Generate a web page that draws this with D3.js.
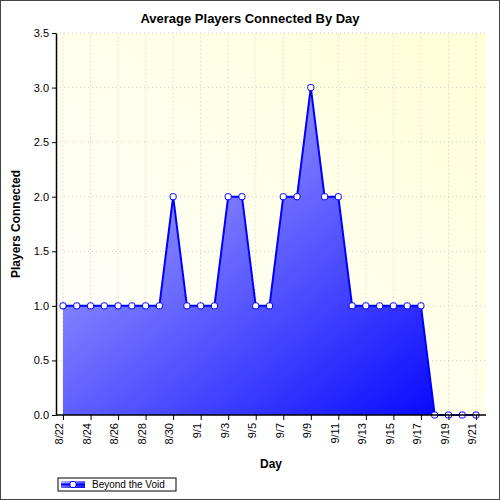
<!DOCTYPE html>
<html><head><meta charset="utf-8">
<script src="https://cdn.jsdelivr.net/npm/d3@7"></script>
<style>body{margin:0}svg{font-family:"Liberation Sans",Arial,sans-serif}</style>
</head><body><div class="chart"></div>
<script>
var days = ["8/22","8/23","8/24","8/25","8/26","8/27","8/28","8/29","8/30","8/31","9/1","9/2","9/3","9/4","9/5","9/6","9/7","9/8","9/9","9/10","9/11","9/12","9/13","9/14","9/15","9/16","9/17","9/18","9/19","9/20","9/21"];
var players = [1,1,1,1,1,1,1,1,2,1,1,1,2,2,1,1,2,2,3,2,2,1,1,1,1,1,1,0,0,0,0];
var yTicks = [0,0.5,1,1.5,2,2.5,3,3.5];

var margin = {top: 33, right: 14, bottom: 85, left: 56};
var width = 500 - margin.left - margin.right;
var height = 500 - margin.top - margin.bottom;

var svg = d3.select(".chart").append("svg").attr("width", 500).attr("height", 500);
var defs = svg.append("defs");
var bg = defs.append("linearGradient").attr("id", "bg").attr("x1", 0).attr("y1", 1).attr("x2", 1).attr("y2", 0);
bg.append("stop").attr("offset", 0).attr("stop-color", "#ffffff");
bg.append("stop").attr("offset", 1).attr("stop-color", "#ffffd8");
var fg = defs.append("linearGradient").attr("id", "fg").attr("x1", 0).attr("y1", 0).attr("x2", 1).attr("y2", 1);
fg.append("stop").attr("offset", 0).attr("stop-color", "#c0c0ff");
fg.append("stop").attr("offset", 1).attr("stop-color", "#0000ff");

svg.append("rect").attr("x", 0.5).attr("y", 0.5).attr("width", 499).attr("height", 499)
  .attr("fill", "white").attr("stroke", "#444");

svg.append("text").attr("x", 250).attr("y", 23).attr("text-anchor", "middle")
  .attr("font-size", 13).attr("font-weight", "bold").text("Average Players Connected By Day");

var g = svg.append("g").attr("transform", `translate(${margin.left}, ${margin.top})`);
g.append("rect").attr("width", width).attr("height", height).attr("fill", "url(#bg)");

var x = d3.scalePoint().domain(days).range([7, width - 10]);
var y = d3.scaleLinear().domain([0, 3.5]).range([height, 0]);

// grid
g.selectAll(".hg").data(yTicks.slice(1)).enter().append("line")
  .attr("x1", 0).attr("x2", width).attr("y1", d => y(d)).attr("y2", d => y(d))
  .attr("stroke", "#ccc").attr("stroke-dasharray", "1,3");
g.selectAll(".vg").data(days.filter((d, i) => i % 2 == 0)).enter().append("line")
  .attr("y1", 0).attr("y2", height).attr("x1", d => x(d)).attr("x2", d => x(d))
  .attr("stroke", "#ccc").attr("stroke-dasharray", "1,3");

var area = d3.area().x((d, i) => x(days[i])).y0(height).y1(d => y(d));
var line = d3.line().x((d, i) => x(days[i])).y(d => y(d));
g.append("path").datum(players).attr("d", area).attr("fill", "url(#fg)");
g.append("path").datum(players).attr("d", line).attr("fill", "none").attr("stroke", "#0000ff").attr("stroke-width", 2);
g.selectAll(".pt").data(players).enter().append("rect")
  .attr("x", (d, i) => x(days[i]) - 3).attr("y", d => y(d) - 3).attr("width", 6).attr("height", 6)
  .attr("rx", 2).attr("fill", "white").attr("stroke", "#0000ff");

var yAxis = g.append("g").call(d3.axisLeft(y).tickValues(yTicks).tickFormat(d3.format(".1f")).tickSize(4).tickSizeOuter(0));
yAxis.selectAll("text").attr("font-size", 11).attr("fill", "#000");
yAxis.select(".domain").attr("stroke", "#000").attr("stroke-width", 1.5);
var xAxis = g.append("g").attr("transform", `translate(0, ${height})`)
  .call(d3.axisBottom(x).tickValues(days.filter((d, i) => i % 2 == 0)).tickSize(5).tickSizeOuter(0));
xAxis.select(".domain").attr("stroke", "#000").attr("stroke-width", 1.5).attr("d", `M0,0H${width}`);
xAxis.selectAll("text").attr("font-size", 11).attr("fill", "#000")
  .attr("transform", "rotate(-90)").attr("text-anchor", "end").attr("x", -8).attr("y", -4).attr("dy", "0.35em");

svg.append("text").attr("x", margin.left + width / 2).attr("y", 468).attr("text-anchor", "middle")
  .attr("font-size", 12).attr("font-weight", "bold").text("Day");
svg.append("text").attr("transform", "rotate(-90)").attr("x", -(margin.top + height / 2)).attr("y", 20)
  .attr("text-anchor", "middle").attr("font-size", 12).attr("font-weight", "bold").text("Players Connected");

// legend
var lg = svg.append("g").attr("transform", "translate(58, 478)");
lg.append("rect").attr("width", 118).attr("height", 13).attr("fill", "white").attr("stroke", "#000");
lg.append("rect").attr("x", 3).attr("y", 3).attr("width", 24).attr("height", 7).attr("fill", "url(#fg)");
lg.append("line").attr("x1", 3).attr("x2", 27).attr("y1", 6.5).attr("y2", 6.5).attr("stroke", "#00f").attr("stroke-width", 2);
lg.append("rect").attr("x", 12).attr("y", 3.5).attr("width", 6).attr("height", 6).attr("rx", 2).attr("fill", "white").attr("stroke", "#00f");
lg.append("text").attr("x", 34).attr("y", 10).attr("font-size", 10).text("Beyond the Void");
</script></body></html>
